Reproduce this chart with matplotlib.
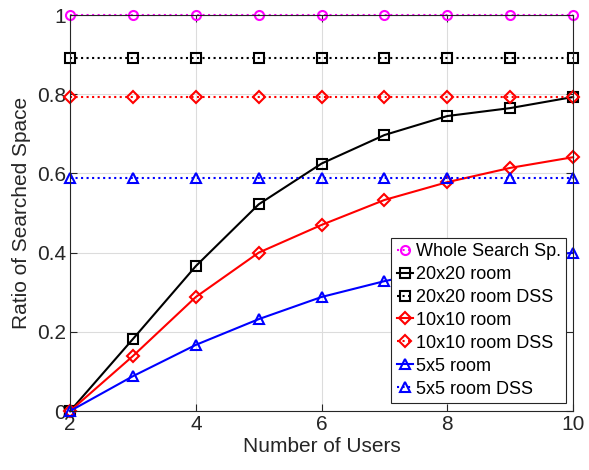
import numpy as np
import matplotlib
matplotlib.use("Agg")
import matplotlib.pyplot as plt

plt.rcParams['font.family'] = ['Liberation Sans', 'DejaVu Sans']

users = [2, 3, 4, 5, 6, 7, 8, 9, 10]
whole = [1.0] * 9
room20 = [0.0, 0.182, 0.366, 0.522, 0.625, 0.697, 0.745, 0.765, 0.793]
room20_dss = [0.891] * 9
room10 = [0.0, 0.139, 0.288, 0.400, 0.470, 0.533, 0.578, 0.614, 0.641]
room10_dss = [0.794] * 9
room5 = [0.0, 0.088, 0.167, 0.232, 0.288, 0.328, 0.360, 0.382, 0.400]
room5_dss = [0.588] * 9

fig = plt.figure(figsize=(5.89, 4.70), dpi=100)
ax = fig.add_axes([0.119, 0.1255, 0.854, 0.8425])

mk = dict(markerfacecolor='none', markeredgewidth=1.5, markersize=6.5,
          linewidth=1.5, clip_on=False)
ax.plot(users, whole, ':', color='#ff00ff', marker='o', label='Whole Search Sp.', **mk)
ax.plot(users, room20, '-', color='black', marker='s', label='20x20 room', **mk)
ax.plot(users, room20_dss, ':', color='black', marker='s', label='20x20 room DSS', **mk)
ax.plot(users, room10, '-', color='red', marker='D', label='10x10 room',
        **{**mk, 'markersize': 6})
ax.plot(users, room10_dss, ':', color='red', marker='D', label='10x10 room DSS',
        **{**mk, 'markersize': 6})
ax.plot(users, room5, '-', color='blue', marker='^', label='5x5 room', **mk)
ax.plot(users, room5_dss, ':', color='blue', marker='^', label='5x5 room DSS', **mk)

ax.set_xlim(2, 10)
ax.set_ylim(0, 1)
ax.set_xticks([2, 4, 6, 8, 10])
ax.set_yticks([0, 0.2, 0.4, 0.6, 0.8, 1])
ax.set_yticklabels(['0', '0.2', '0.4', '0.6', '0.8', '1'])
ax.grid(True, color='#dcdcdc', linewidth=0.8)
ax.set_axisbelow(True)
ax.tick_params(direction='in', labelsize=15, colors='#262626', length=5,
               top=True, right=True, pad=3)
for s in ax.spines.values():
    s.set_color('#262626')
    s.set_linewidth(0.8)
ax.set_xlabel('Number of Users', fontsize=15, color='#262626', labelpad=2)
ax.set_ylabel('Ratio of Searched Space', fontsize=15, color='#262626', labelpad=4)

leg = ax.legend(loc='lower right', bbox_to_anchor=(0.986, 0.02), fontsize=13,
                handlelength=0.9, handletextpad=0.15, borderpad=0.3,
                labelspacing=0.33, fancybox=False, framealpha=1,
                edgecolor='#262626', borderaxespad=0)
leg.get_frame().set_linewidth(0.8)
leg.set_zorder(10)

fig.savefig('out.png', dpi=100)
